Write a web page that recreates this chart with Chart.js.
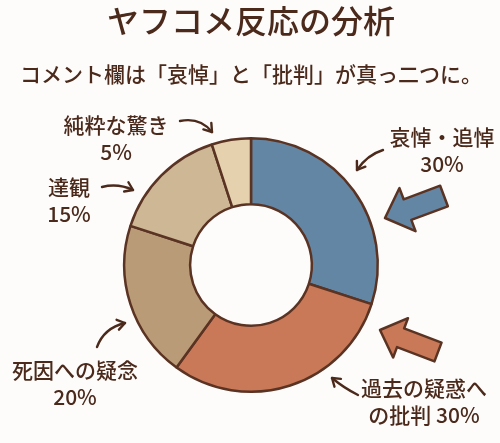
<!DOCTYPE html>
<html><head><meta charset="utf-8">
<script src="https://cdn.jsdelivr.net/npm/chart.js@4"></script>
<style>
html,body{margin:0;padding:0;background:#fdfcfa;}
#wrap{width:500px;height:443px;position:relative;}
</style>
</head><body><div id="wrap"><canvas id="c"></canvas></div>
<script>
// ---- data ----
const categories = ['哀悼・追悼', '過去の疑惑への批判', '死因への疑念', '達観', '純粋な驚き'];
const shares = [30, 30, 20, 15, 5];
const labelLines = [
  ['哀悼・追悼', '30%'],
  ['過去の疑惑へ', 'の批判 30%'],
  ['死因への疑念', '20%'],
  ['達観', '15%'],
  ['純粋な驚き', '5%']
];
const titleText = 'ヤフコメ反応の分析';
const subtitleText = 'コメント欄は「哀悼」と「批判」が真っ二つに。';

// ---- style ----
const sliceColors = ['#6386a5', '#c97858', '#b99b78', '#cdb795', '#e5d1ae'];
const ink = '#4b2a1c';
const edge = '#5a3323';
const FONT = "'Noto Sans CJK JP', 'Noto Sans', sans-serif";

// annotation layout, offsets from doughnut centre (px)
const labelPos = [[191, -128], [173, 123], [-176, 105], [-182, -78], [-135, -140]];
const thinArrows = [
  [[132, -115], [116, -110], [106, -95]],
  [[107, 130], [93, 123], [81, 113]],
  [[-154, 82], [-147, 63], [-126, 58]],
  [[-149, -78], [-133, -82], [-118, -75]],
  [[-71, -144], [-51, -148], [-39, -133]]
];
const blockArrows = [
  {slice: 0, tip: [134, -47], tail: [193, -69], headLen: 24, headHalf: 23, shaftHalf: 11},
  {slice: 1, tip: [129, 65], tail: [187, 87], headLen: 22, headHalf: 21, shaftHalf: 10}
];

const annot = {
  id: 'annot',
  afterDatasetsDraw(chart) {
    const arc = chart.getDatasetMeta(0).data[0];
    const cx = arc.x, cy = arc.y;
    const ctx = chart.ctx;
    ctx.save();
    // labels
    ctx.fillStyle = ink;
    ctx.font = '500 21px ' + FONT;
    ctx.textAlign = 'center';
    ctx.textBaseline = 'middle';
    labelLines.forEach((lines, i) => {
      const [dx, dy] = labelPos[i];
      lines.forEach((t, j) => ctx.fillText(t, cx + dx, cy + dy + j * 27));
    });
    // thin arrows
    ctx.strokeStyle = ink;
    ctx.lineWidth = 2.4;
    ctx.lineCap = 'round';
    ctx.lineJoin = 'round';
    thinArrows.forEach(([s, c, e]) => {
      ctx.beginPath();
      ctx.moveTo(cx + s[0], cy + s[1]);
      ctx.quadraticCurveTo(cx + c[0], cy + c[1], cx + e[0], cy + e[1]);
      ctx.stroke();
      const ang = Math.atan2(e[1] - c[1], e[0] - c[0]);
      const L = 9;
      ctx.beginPath();
      ctx.moveTo(cx + e[0] - L * Math.cos(ang - 0.6), cy + e[1] - L * Math.sin(ang - 0.6));
      ctx.lineTo(cx + e[0], cy + e[1]);
      ctx.lineTo(cx + e[0] - L * Math.cos(ang + 0.6), cy + e[1] - L * Math.sin(ang + 0.6));
      ctx.stroke();
    });
    // block arrows
    blockArrows.forEach(b => {
      const tx = cx + b.tip[0], ty = cy + b.tip[1];
      const sx = cx + b.tail[0], sy = cy + b.tail[1];
      const len = Math.hypot(sx - tx, sy - ty);
      const ux = (sx - tx) / len, uy = (sy - ty) / len;
      const nx = -uy, ny = ux;
      const bx = tx + ux * b.headLen, by = ty + uy * b.headLen;
      ctx.beginPath();
      ctx.moveTo(tx, ty);
      ctx.lineTo(bx + nx * b.headHalf, by + ny * b.headHalf);
      ctx.lineTo(bx + nx * b.shaftHalf, by + ny * b.shaftHalf);
      ctx.lineTo(sx + nx * b.shaftHalf, sy + ny * b.shaftHalf);
      ctx.lineTo(sx - nx * b.shaftHalf, sy - ny * b.shaftHalf);
      ctx.lineTo(bx - nx * b.shaftHalf, by - ny * b.shaftHalf);
      ctx.lineTo(bx - nx * b.headHalf, by - ny * b.headHalf);
      ctx.closePath();
      ctx.fillStyle = sliceColors[b.slice];
      ctx.fill();
      ctx.strokeStyle = edge;
      ctx.lineWidth = 2.5;
      ctx.stroke();
    });
    ctx.restore();
  }
};

new Chart(document.getElementById('c'), {
  type: 'doughnut',
  data: {
    labels: categories,
    datasets: [{
      data: shares,
      backgroundColor: sliceColors,
      borderColor: edge,
      borderWidth: 2.5,
      hoverOffset: 0,
      borderAlign: 'center'
    }]
  },
  options: {
    responsive: true,
    maintainAspectRatio: false,
    animation: false,
    events: [],
    cutout: '48%',
    layout: {padding: {top: 0, bottom: 50, left: 2, right: 0}},
    plugins: {
      legend: {display: false},
      tooltip: {enabled: false},
      title: {
        display: true, text: titleText, color: ink,
        font: {family: FONT, size: 32, weight: '500'},
        padding: {top: 2, bottom: 4}
      },
      subtitle: {
        display: true, text: subtitleText, color: ink,
        font: {family: FONT, size: 21, weight: '500'},
        padding: {top: 17, bottom: 50.4}
      }
    }
  },
  plugins: [annot]
});
</script>
</body></html>
